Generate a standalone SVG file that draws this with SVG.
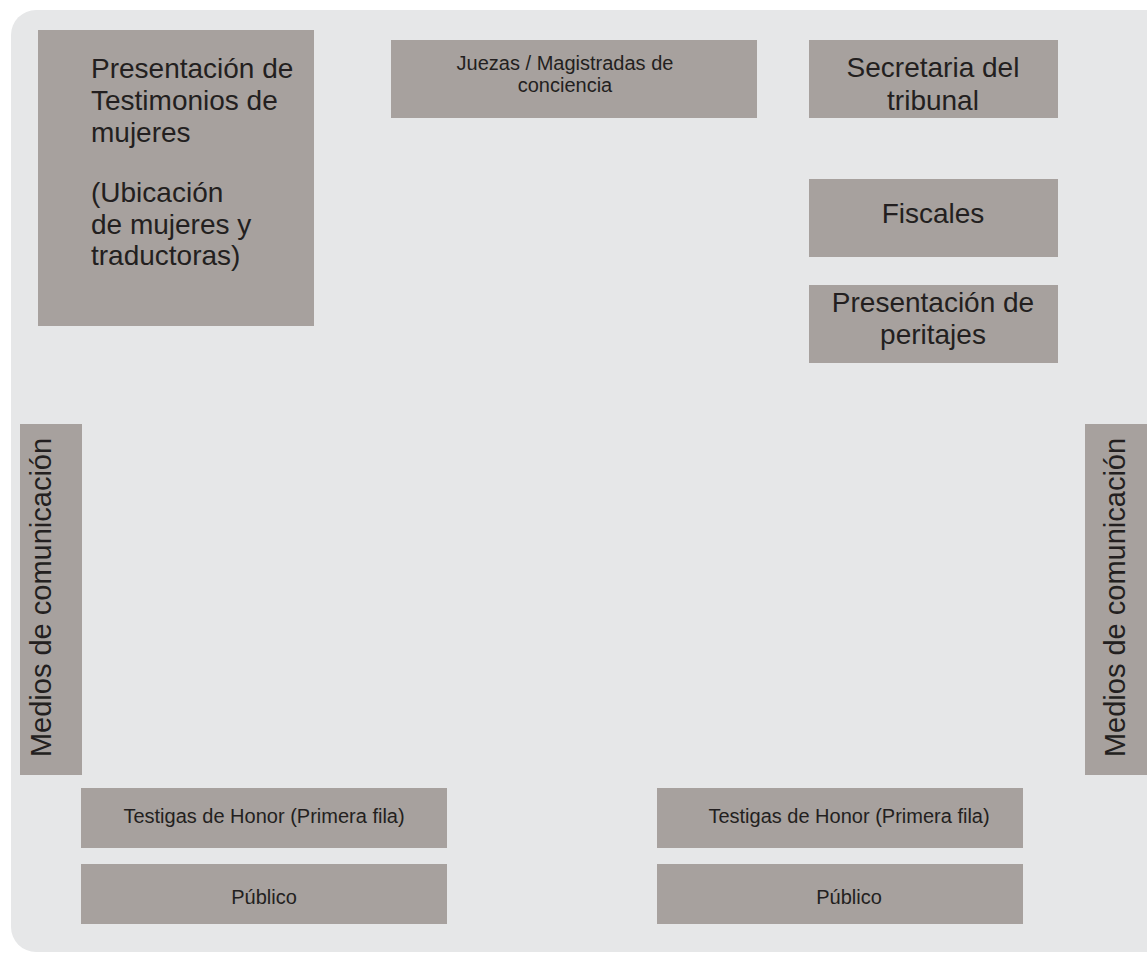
<svg xmlns="http://www.w3.org/2000/svg" width="1147" height="953" viewBox="0 0 1147 953">
<style>
.box{fill:#a7a19e}
.t{font-family:"Liberation Sans",Arial,sans-serif;fill:#231f20}
.l{font-size:28px}
.s{font-size:20px}
.c{text-anchor:middle}
</style>
<rect x="0" y="0" width="1147" height="953" fill="#ffffff"/>
<rect x="11" y="10" width="1170" height="942" rx="25" ry="25" fill="#e6e7e8"/>
<g id="testimonios">
<rect class="box" x="38" y="30" width="276" height="296"/>
<text class="t l" x="91"><tspan x="91" y="78">Presentación de</tspan><tspan x="91" y="110">Testimonios de</tspan><tspan x="91" y="142">mujeres</tspan><tspan x="91" y="202">(Ubicación</tspan><tspan x="91" y="234">de mujeres y</tspan><tspan x="91" y="265">traductoras)</tspan></text>
</g>
<g id="juezas">
<rect class="box" x="391" y="40" width="366" height="78"/>
<text class="t s c"><tspan x="565" y="70">Juezas / Magistradas de</tspan><tspan x="565" y="92">conciencia</tspan></text>
</g>
<g id="secretaria">
<rect class="box" x="809" y="40" width="249" height="78"/>
<text class="t l c"><tspan x="933" y="77">Secretaria del</tspan><tspan x="933" y="110">tribunal</tspan></text>
</g>
<g id="fiscales">
<rect class="box" x="809" y="179" width="249" height="78"/>
<text class="t l c" x="933" y="223">Fiscales</text>
</g>
<g id="peritajes">
<rect class="box" x="809" y="285" width="249" height="78"/>
<text class="t l c"><tspan x="933" y="312">Presentación de</tspan><tspan x="933" y="344">peritajes</tspan></text>
</g>
<g id="medios-izq">
<rect class="box" x="20" y="424" width="62" height="351"/>
<text class="t c" font-size="29" transform="rotate(-90 51 597.5)" x="51" y="597.5">Medios de comunicación</text>
</g>
<g id="medios-der">
<rect class="box" x="1085" y="424" width="70" height="351"/>
<text class="t c" font-size="29" transform="rotate(-90 1125 597.5)" x="1125" y="597.5">Medios de comunicación</text>
</g>
<g id="testigas-izq">
<rect class="box" x="81" y="788" width="366" height="60"/>
<text class="t s c" x="264" y="823">Testigas de Honor (Primera fila)</text>
</g>
<g id="publico-izq">
<rect class="box" x="81" y="864" width="366" height="60"/>
<text class="t s c" x="264" y="904">Público</text>
</g>
<g id="testigas-der">
<rect class="box" x="657" y="788" width="366" height="60"/>
<text class="t s c" x="849" y="823">Testigas de Honor (Primera fila)</text>
</g>
<g id="publico-der">
<rect class="box" x="657" y="864" width="366" height="60"/>
<text class="t s c" x="849" y="904">Público</text>
</g>
<g id="connectors"></g>
</svg>
